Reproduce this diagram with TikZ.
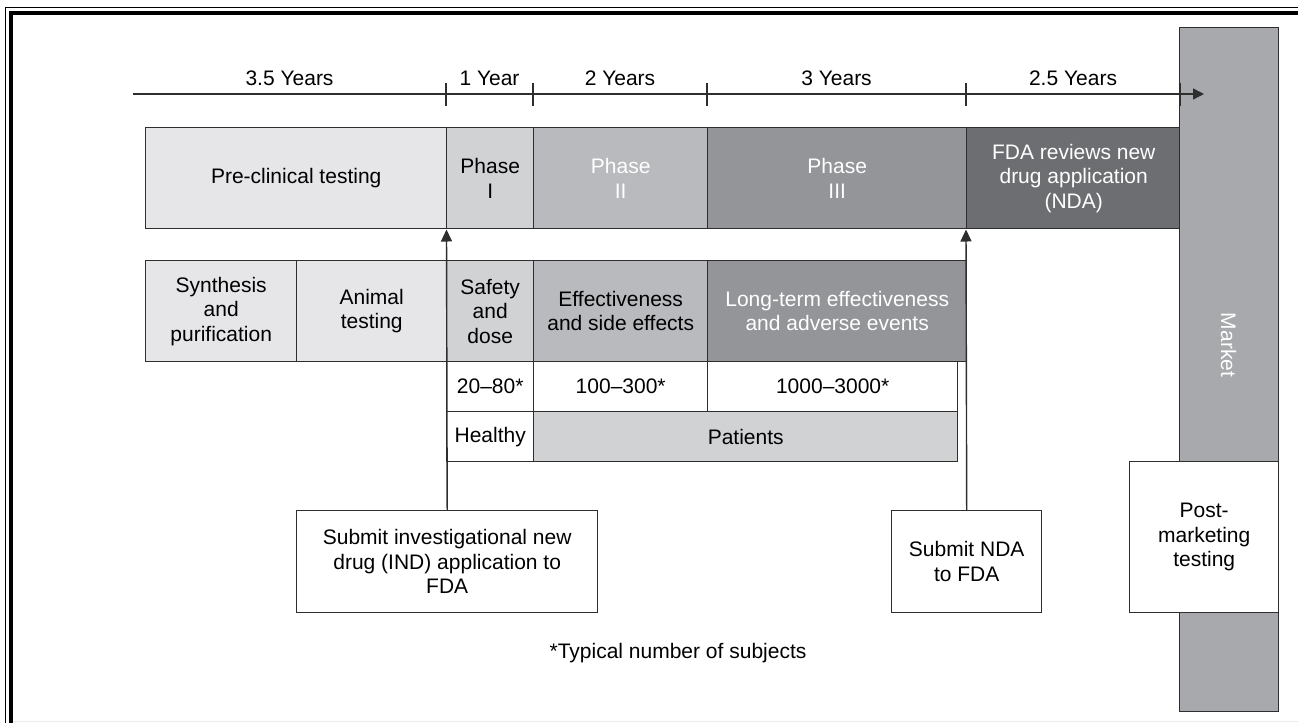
\documentclass[tikz,border=0pt]{standalone}
\usepackage{fontspec}
\setmainfont{Liberation Sans}
\usetikzlibrary{arrows.meta}
\definecolor{lineC}{HTML}{2E2E2E}
\definecolor{cA}{HTML}{E6E6E8}
\definecolor{cB}{HTML}{D1D2D4}
\definecolor{cC}{HTML}{B9BABD}
\definecolor{cD}{HTML}{939598}
\definecolor{cE}{HTML}{6D6E71}
\definecolor{cM}{HTML}{A7A9AC}
\newcommand{\dgfont}{\fontsize{21}{24.5}\selectfont}
\begin{document}
\begin{tikzpicture}[x=1pt,y=-1pt,
  box/.style={draw=lineC, line width=1.4pt, inner sep=0pt, anchor=north west, align=center, font=\dgfont},
  lbl/.style={inner sep=0pt, font=\dgfont},
  conn/.style={draw=lineC, line width=1.4pt},
  tip/.style={-{Triangle[length=12pt,width=11pt]}}]
\useasboundingbox (0,0) rectangle (1298,723);
% frame
\draw[line width=1pt, black, line join=miter] (5.5,723) -- (5.5,7.5) -- (1298,7.5);
\draw[line width=4pt, black, line join=miter] (11,723) -- (11,13) -- (1298,13);
\draw[gray!15, line width=1pt] (13,721.5) -- (1298,721.5);
% timeline labels
\node[lbl] (y1) at (289.5,78) {3.5 Years};
\node[lbl] (y2) at (489.5,78) {1 Year};
\node[lbl] (y3) at (620,78) {2 Years};
\node[lbl] (y4) at (836.5,78) {3 Years};
\node[lbl] (y5) at (1073,78) {2.5 Years};
% top row
\node[box, fill=cA, minimum width=301pt, minimum height=101pt] (pre) at (145,127) {Pre-clinical testing};
\node[box, fill=cB, minimum width=87pt, minimum height=101pt] (ph1) at (446,127) {Phase\\I};
\node[box, fill=cC, text=white, minimum width=174pt, minimum height=101pt] (ph2) at (533,127) {Phase\\II};
\node[box, fill=cD, text=white, minimum width=259pt, minimum height=101pt] (ph3) at (707,127) {Phase\\III};
\node[box, fill=cE, text=white, minimum width=214pt, minimum height=101pt] (fda) at (966,127) {FDA reviews new\\drug application\\(NDA)};
% second row
\node[box, fill=cA, minimum width=151pt, minimum height=101pt] (syn) at (145,260) {Synthesis\\and\\purification};
\node[box, fill=cA, minimum width=150pt, minimum height=101pt] (ani) at (296,260) {Animal\\testing};
\node[box, fill=cB, minimum width=87pt, minimum height=101pt] (saf) at (446,260) {Safety\\and\\dose};
\node[box, fill=cC, minimum width=174pt, minimum height=101pt] (eff) at (533,260) {Effectiveness\\and side effects};
\node[box, fill=cD, text=white, minimum width=259pt, minimum height=101pt] (lte) at (707,260) {Long-term effectiveness\\and adverse events};
% subjects rows
\node[box, fill=white, minimum width=87pt, minimum height=50pt] (n1) at (446,361) {20–80*};
\node[box, fill=white, minimum width=174pt, minimum height=50pt] (n2) at (533,361) {100–300*};
\node[box, fill=white, minimum width=250pt, minimum height=50pt] (n3) at (707,361) {1000–3000*};
\node[box, fill=white, minimum width=87pt, minimum height=50pt] (hea) at (446,411) {Healthy};
\node[box, fill=cB, minimum width=424pt, minimum height=50pt] (pat) at (533,411) {Patients};
% market
\node[box, fill=cM, minimum width=99pt, minimum height=684pt] (mkt) at (1179,27) {};
\node[lbl, rotate=-90, text=white] (mktl) at (1228.5,345) {Market};
\node[box, fill=white, minimum width=149pt, minimum height=151pt] (post) at (1129,461) {Post-\\marketing\\testing};
% submission boxes
\node[box, fill=white, minimum width=301pt, minimum height=102pt] (ind) at (296,510) {Submit investigational new\\drug (IND) application to\\FDA};
\node[box, fill=white, minimum width=150pt, minimum height=102pt] (nda) at (891,510) {Submit NDA\\to FDA};
\node[lbl] (note) at (678,653) {*Typical number of subjects};
% connectors
\coordinate (tipA) at (446.5,229.5);
\coordinate (tipB) at (966,229.5);
\draw[conn, tip] (ind.north) -- (tipA);
\draw[conn, tip] (nda.north) -- (tipB);
% timeline
\coordinate (t0) at (133,94);
\coordinate (t1) at (1204,94);
\draw[conn, line width=1.3pt, -{Triangle[length=11pt,width=11pt]}] (t0) -- (t1);
\foreach \x in {446,533,707,966,1180} \draw[conn, line width=1.3pt] (\x,83) -- (\x,106);
\end{tikzpicture}
\end{document}
